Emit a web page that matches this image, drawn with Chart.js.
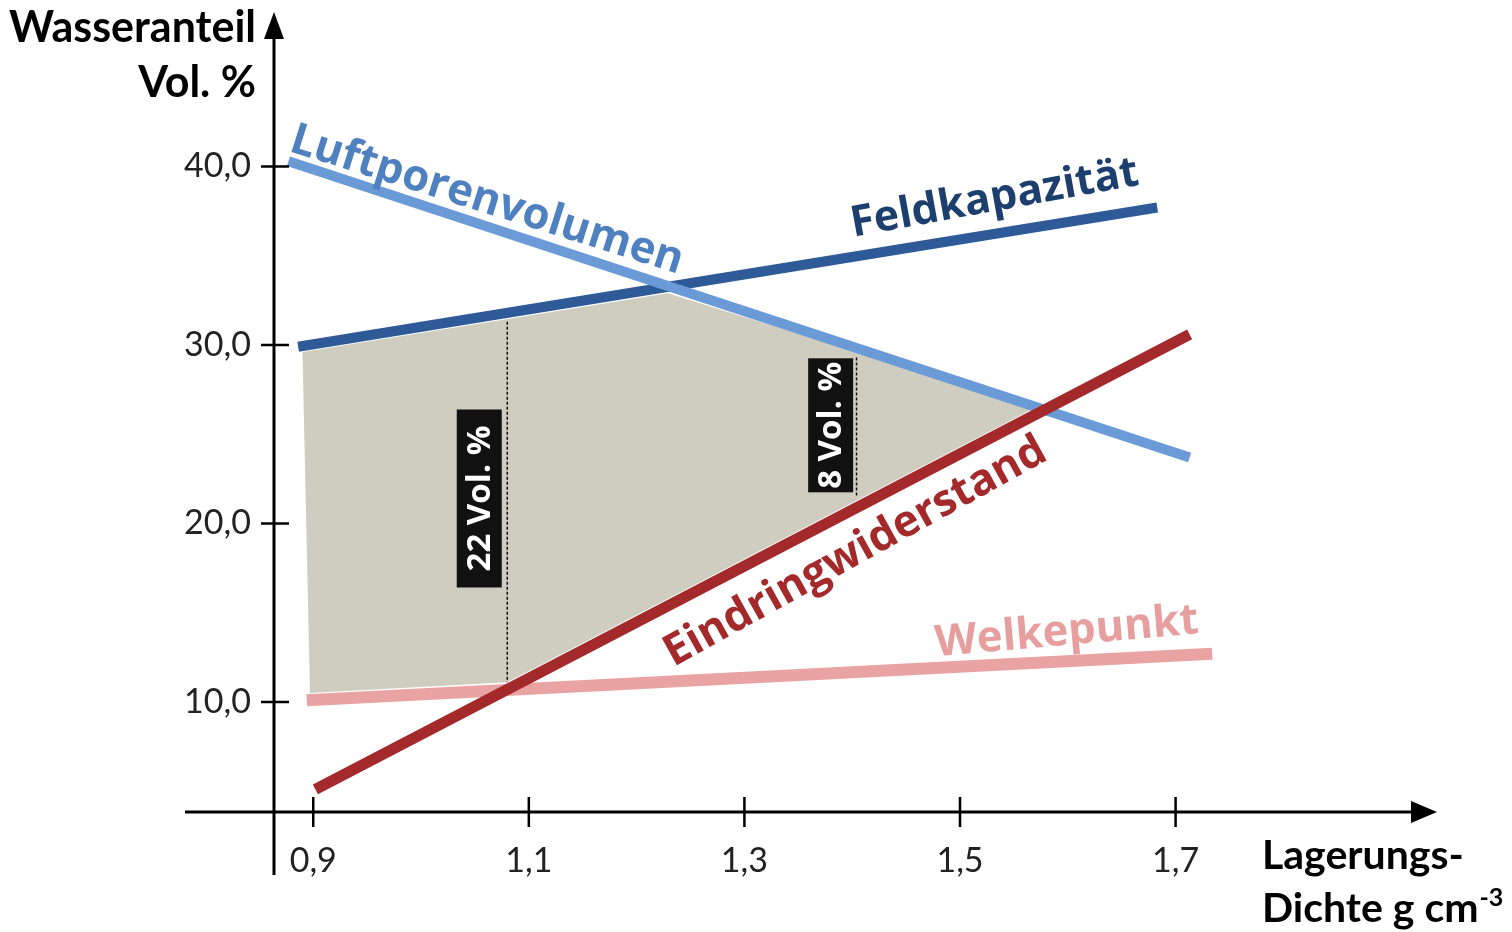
<!DOCTYPE html>
<html>
<head>
<meta charset="utf-8">
<script src="https://cdn.jsdelivr.net/npm/chart.js@4"></script>
<style>
  html, body { margin: 0; padding: 0; background: #fff; }
  #box { width: 1512px; height: 932px; }
</style>
</head>
<body>
<div id="box"><canvas id="boden-chart"></canvas></div>
<script>
// Achsen
var dichteTicks = [0.9, 1.1, 1.3, 1.5, 1.7];
var wasserTicks = [10, 20, 30, 40];

// Linien (Lagerungsdichte -> Vol. %)
var feldkapX = [0.886, 1.683];
var feldkapY = [29.9, 37.7];
var luftX = [0.877, 1.713];
var luftY = [40.3, 23.7];
var eindringX = [0.902, 1.713];
var eindringY = [5.1, 30.6];
var welkeX = [0.894, 1.734];
var welkeY = [10.1, 12.7];

// nutzbarer Bereich (graue Flaeche)
var flaecheX = [0.890, 1.229, 1.570, 1.080, 0.897];
var flaecheY = [29.6, 32.9, 26.5, 11.1, 10.5];

// Spannen
var spanneX = [1.080, 1.404];
var spanneOben = [31.3, 29.3];
var spanneUnten = [11.1, 21.5];
var spanneText = ['22 Vol. %', '8 Vol. %'];

function pts(xs, ys) {
    return xs.map(function (x, i) { return { x: x, y: ys[i] }; });
}

var linie = function (label, xs, ys, color, width, order) {
    return {
        label: label, data: pts(xs, ys), showLine: true,
        borderColor: color, borderWidth: width, pointRadius: 0,
        fill: false, order: order, clip: false
    };
};

var datasets = [
    linie('Eindringwiderstand', eindringX, eindringY, '#a3292b', 11, 1),
    linie('Luftporenvolumen', luftX, luftY, '#6a9bd7', 10, 2),
    linie('Feldkapazität', feldkapX, feldkapY, '#2e5b97', 10, 3),
    linie('Welkepunkt', welkeX, welkeY, '#eaa3a3', 12, 4),
];
spanneX.forEach(function (x, i) {
    datasets.push({
        label: spanneText[i], data: pts([x, x], [spanneOben[i], spanneUnten[i]]),
        showLine: true, borderColor: '#111', borderWidth: 1.5, borderDash: [3, 2],
        pointRadius: 0, fill: false, order: 5
    });
});
datasets.push({
    label: 'Fläche', data: pts(flaecheX, flaecheY), showLine: true,
    borderWidth: 0, pointRadius: 0, backgroundColor: '#cfcdc0',
    fill: 'shape', order: 6
});

// Beschriftung an den Linien (Mitte in Datenkoordinaten, Breite in px)
var beschriftungen = [
    { text: 'Luftporenvolumen', x: 1.061, y: 38.1, angle: 17.5, width: 410, color: '#4f81c1' },
    { text: 'Feldkapazität', x: 1.532, y: 38.2, angle: -10.3, width: 292, color: '#1d3f6e' },
    { text: 'Eindringwiderstand', x: 1.403, y: 18.4, angle: -29, width: 430, color: '#a3292b' },
    { text: 'Welkepunkt', x: 1.599, y: 13.9, angle: -5, width: 264, color: '#e79e9e' },
];
var boxen = [
    { x: 1.054, y: 21.4, w: 45, h: 178 },
    { x: 1.380, y: 25.5, w: 45, h: 134 },
];

var komma = function (v) { return Number(v).toFixed(1).replace('.', ','); };

function fitFont(ctx, text, family, width) {
    ctx.font = 'bold 40px "' + family + '"';
    var size = 40 * width / ctx.measureText(text).width;
    ctx.font = 'bold ' + size.toFixed(1) + 'px "' + family + '"';
}

var achsenPlugin = {
    id: 'achsen',
    afterDatasetsDraw: function (chart) {
        var ctx = chart.ctx, xs = chart.scales.x, ys = chart.scales.y;
        var x0 = xs.left, y0 = ys.bottom;
        ctx.save();

        // Spannen-Boxen
        boxen.forEach(function (b, i) {
            var cx = xs.getPixelForValue(b.x), cy = ys.getPixelForValue(b.y);
            ctx.fillStyle = '#111';
            ctx.fillRect(cx - b.w / 2, cy - b.h / 2, b.w, b.h);
            ctx.save();
            ctx.translate(cx, cy);
            ctx.rotate(-Math.PI / 2);
            ctx.fillStyle = '#fff';
            ctx.font = 'bold 33px "Open Sans"';
            ctx.textAlign = 'center';
            ctx.textBaseline = 'middle';
            ctx.fillText(spanneText[i], 0, 1);
            ctx.restore();
        });

        // Linienbeschriftungen
        beschriftungen.forEach(function (l) {
            ctx.save();
            ctx.translate(xs.getPixelForValue(l.x), ys.getPixelForValue(l.y));
            ctx.rotate(l.angle * Math.PI / 180);
            fitFont(ctx, l.text, 'Open Sans', l.width);
            ctx.fillStyle = l.color;
            ctx.textAlign = 'center';
            ctx.textBaseline = 'middle';
            ctx.fillText(l.text, 0, 0);
            ctx.restore();
        });

        // Achsen mit Pfeilen
        ctx.strokeStyle = '#000';
        ctx.fillStyle = '#000';
        ctx.lineWidth = 3;
        ctx.beginPath();
        ctx.moveTo(x0 - 89, y0);
        ctx.lineTo(xs.right - 20, y0);
        ctx.moveTo(x0, y0 + 63);
        ctx.lineTo(x0, ys.top + 20);
        ctx.stroke();
        ctx.beginPath();
        ctx.moveTo(xs.right, y0);
        ctx.lineTo(xs.right - 26, y0 - 11);
        ctx.lineTo(xs.right - 26, y0 + 11);
        ctx.closePath();
        ctx.fill();
        ctx.beginPath();
        ctx.moveTo(x0, ys.top);
        ctx.lineTo(x0 - 10, ys.top + 27);
        ctx.lineTo(x0 + 10, ys.top + 27);
        ctx.closePath();
        ctx.fill();

        ctx.lineWidth = 2.5;
        ctx.beginPath();
        dichteTicks.forEach(function (v) {
            var px = xs.getPixelForValue(v);
            ctx.moveTo(px, y0 - 15);
            ctx.lineTo(px, y0 + 15);
        });
        wasserTicks.forEach(function (v) {
            var py = ys.getPixelForValue(v);
            ctx.moveTo(x0 - 13, py);
            ctx.lineTo(x0 + 15, py);
        });
        ctx.stroke();

        // Achsentitel
        ctx.font = 'bold 43px Lato';
        ctx.textAlign = 'right';
        ctx.textBaseline = 'alphabetic';
        ctx.fillText('Wasseranteil', 256, 42);
        ctx.fillText('Vol. %', 256, 97);
        ctx.textAlign = 'left';
        ctx.font = 'bold 41px Lato';
        ctx.fillText('Lagerungs-', 1262, 869);
        ctx.fillText('Dichte g cm', 1262, 922);
        var w = ctx.measureText('Dichte g cm').width;
        ctx.font = 'bold 25px Lato';
        ctx.fillText('-3', 1262 + w + 1, 906);
        ctx.restore();
    }
};

var keinRand = function (s) { s.paddingTop = 0; s.paddingBottom = 0; s.paddingLeft = 0; s.paddingRight = 0; };

var layout = {
    type: 'scatter',
    data: { datasets: datasets },
    options: {
        responsive: true,
        maintainAspectRatio: false,
        animation: false,
        layout: { padding: { top: 12, right: 75, left: 0, bottom: 0 } },
        plugins: {
            legend: { display: false },
            tooltip: { enabled: false }
        },
        scales: {
            x: {
                type: 'linear',
                min: 0.8636,
                max: 1.9425,
                afterBuildTicks: function (s) { s.ticks = dichteTicks.map(function (v) { return { value: v }; }); },
                afterFit: function (s) { s.height = 120; keinRand(s); },
                ticks: {
                    callback: komma, autoSkip: false, maxRotation: 0,
                    font: { family: 'Lato', size: 34 }, color: '#222', padding: 29
                },
                grid: { display: false, drawTicks: false },
                border: { display: false }
            },
            y: {
                type: 'linear',
                min: 3.836,
                max: 48.655,
                afterBuildTicks: function (s) { s.ticks = wasserTicks.map(function (v) { return { value: v }; }); },
                afterFit: function (s) { s.width = 274; keinRand(s); },
                ticks: {
                    callback: komma, autoSkip: false,
                    font: { family: 'Lato', size: 34 }, color: '#222', padding: 23
                },
                grid: { display: false, drawTicks: false },
                border: { display: false }
            }
        }
    },
    plugins: [achsenPlugin]
};

new Chart(document.getElementById('boden-chart'), layout);
</script>
</body>
</html>
